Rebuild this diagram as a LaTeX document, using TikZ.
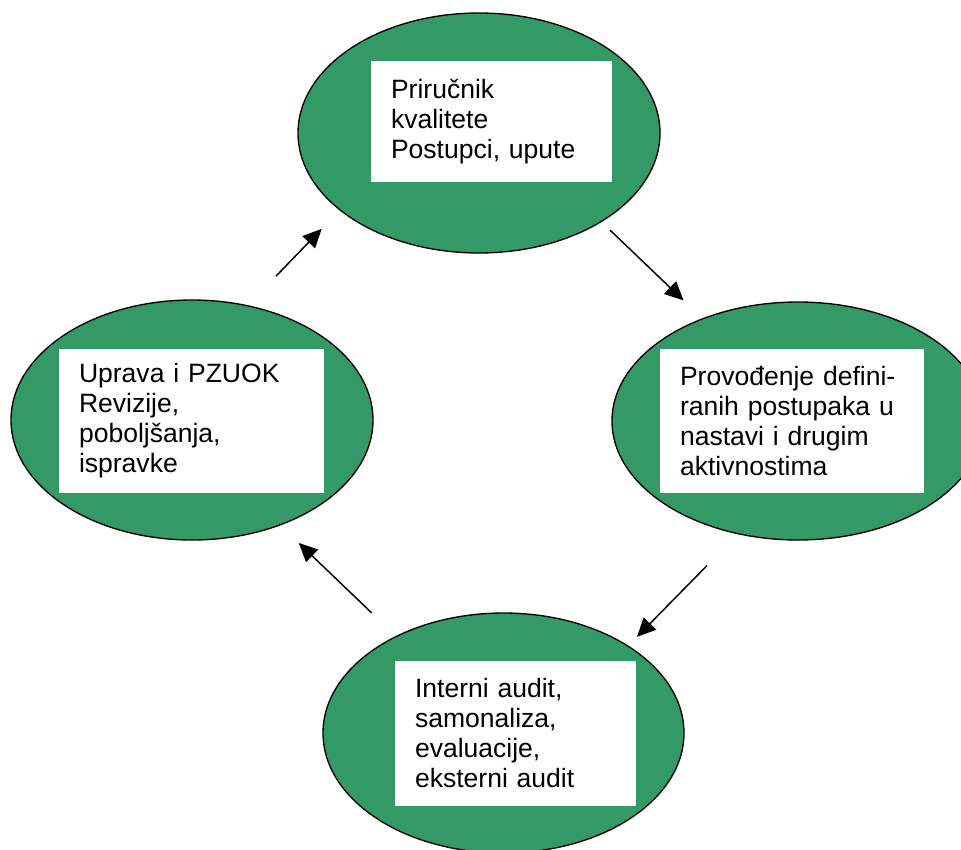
\documentclass[tikz,border=0pt]{standalone}
\usepackage{fontspec}
\setmainfont{Liberation Sans}
\usetikzlibrary{arrows.meta,shapes.geometric,positioning,calc}
\definecolor{zelena}{RGB}{51,153,102}

\begin{document}
\begin{tikzpicture}[x=0.75pt,y=-0.75pt,
  elipsa/.style={ellipse,draw=black,line width=1pt,fill=zelena,inner sep=0pt},
  okvir/.style={fill=white,inner xsep=15pt,inner ysep=0pt,align=left,
    font=\fontsize{19.9}{22.5}\selectfont},
  strelica/.style={line width=1.1pt,-{Triangle[length=14pt,width=13pt]}}]
\clip (0,0) rectangle (961,850);
%Ellipsen (Mittelpunkt in Pixeln, Breite/Hoehe in pt)
\node[elipsa,minimum width=271.5pt,minimum height=180pt] (prirucnik) at (479,133) {};
\node[elipsa,minimum width=279pt,minimum height=178.5pt] (provodenje) at (798,421) {};
\node[elipsa,minimum width=270.75pt,minimum height=180pt] (audit) at (503.5,733) {};
\node[elipsa,minimum width=271.5pt,minimum height=180pt] (uprava) at (192,420) {};
%weisse Kaesten mit Text
\node[okvir,text width=150.75pt,minimum height=90.75pt] (tprirucnik) at ($(prirucnik)+(12.5,-11.5)$)
  {Priručnik\\kvalitete\\Postupci, upute};
\node[okvir,text width=168pt,minimum height=108pt] (tprovodenje) at ($(provodenje)+(-6,0)$)
  {Provođenje defini-\\ranih postupaka u\\nastavi i drugim\\aktivnostima};
\node[okvir,text width=150.75pt,minimum height=108.75pt] (taudit) at ($(audit)+(12,0.5)$)
  {Interni audit,\\samonaliza,\\evaluacije,\\eksterni audit};
\node[okvir,text width=168.75pt,minimum height=108pt] (tuprava) at ($(uprava)+(-0.5,1)$)
  {Uprava i PZUOK\\Revizije,\\poboljšanja,\\ispravke};
%Pfeile: von/Winkel/Abstand -- nach/Winkel/Abstand
\foreach \von/\avon/\svon/\nach/\anach/\snach in
  {uprava/64.5/30.2/prirucnik/209.5/19.3,
   prirucnik/324.7/8.9/provodenje/133.6/19.4,
   provodenje/242.4/32.9/audit/35.2/9.2,
   audit/138.2/25.2/uprava/310.9/19}{
\draw[strelica,shorten <=\svon pt,shorten >=\snach pt] (\von.\avon) -- (\nach.\anach);
}
\end{tikzpicture}
\end{document}
